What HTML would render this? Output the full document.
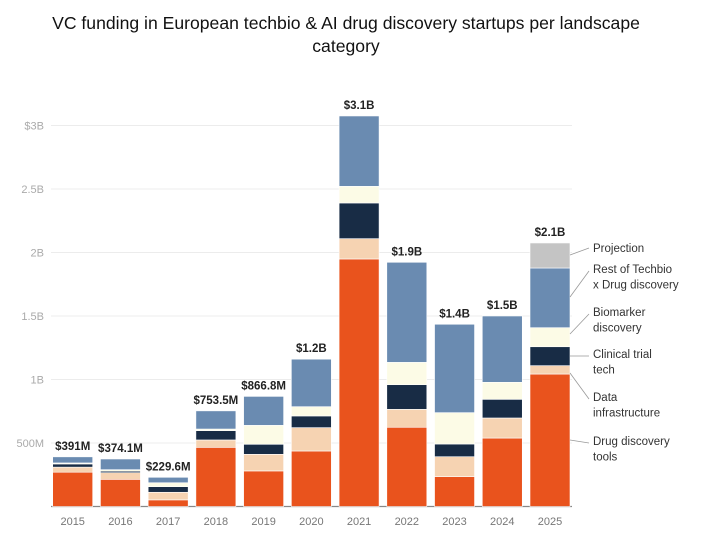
<!DOCTYPE html>
<html><head><meta charset="utf-8"><style>
body{margin:0;background:#fff;width:704px;height:542px;overflow:hidden;font-family:"Liberation Sans",sans-serif}
</style></head><body>
<svg id="chart" width="704" height="542" xmlns="http://www.w3.org/2000/svg">
<text x="346" y="29" text-anchor="middle" font-size="17.6" fill="#111">VC funding in European techbio &amp; AI drug discovery startups per landscape</text>
<text x="346" y="52" text-anchor="middle" font-size="17.6" fill="#111">category</text>
<g id="grid"></g><g id="bars"></g><g id="labels"></g><g id="legend"></g>
</svg>
<script>
const years=["2015","2016","2017","2018","2019","2020","2021","2022","2023","2024","2025"];
const drugTools=[270,214,52,466,280,437,1949,624,235,539,1043];
const dataInfra=[40,52,60,58,131,184,160,141,157,158,66];
const clinical=[25,12,44,73,79,92,281,194,100,147,149];
const biomarker=[8,12,31,13,149,73,131,176,247,134,150];
const restTechbio=[48,84,43,143,228,374,554,788,696,522,470];
const projection=[0,0,0,0,0,0,0,0,0,0,197];
const totals=["$391M","$374.1M","$229.6M","$753.5M","$866.8M","$1.2B","$3.1B","$1.9B","$1.4B","$1.5B","$2.1B"];
const yTicks=[500,1000,1500,2000,2500,3000];
const yTickLabels=["500M","1B","1.5B","2B","2.5B","$3B"];
const seriesNames=["Drug discovery tools","Data infrastructure","Clinical trial tech","Biomarker discovery","Rest of Techbio x Drug discovery","Projection"];
const colors=["#e9531d","#f6d3b2","#182c45","#fcfbe6","#6a8bb1","#c4c4c4"];
const NS="http://www.w3.org/2000/svg";
const base=506.5, pxPerM=0.127;
const y=v=>base-v*pxPerM;
const x=i=>52.7+i*47.73;
const bw=40;
function mk(tag,attrs,parent){const e=document.createElementNS(NS,tag);for(const k in attrs)e.setAttribute(k,attrs[k]);parent.appendChild(e);return e;}
const grid=document.getElementById('grid'),bars=document.getElementById('bars'),labels=document.getElementById('labels'),legend=document.getElementById('legend');
yTicks.forEach((t,i)=>{
 const l=mk('line',{x1:51,x2:572,y1:y(t),y2:y(t),stroke:'#ececec','stroke-width':1},grid);
 
 
 const tx=mk('text',{x:44,y:y(t)+4,'text-anchor':'end','font-size':11,fill:'#aaa'},grid);
 tx.textContent=yTickLabels[i];
 
 
});
const series=[drugTools,dataInfra,clinical,biomarker,restTechbio,projection];
years.forEach((yr,i)=>{
 let acc=0;
 series.forEach((s,k)=>{
  const v=s[i]; if(v<=0)return;
  const r=mk('rect',{x:x(i),y:y(acc+v),width:bw,height:v*pxPerM,fill:colors[k],stroke:'#fff','stroke-width':0.6},bars);
  
  
  acc+=v;
 });
 const t=mk('text',{x:x(i)+bw/2,y:y(acc)-7,'text-anchor':'middle','font-size':11.5,'font-weight':'bold',fill:'#222'},labels);
 t.textContent=totals[i];
 
 
 const yl=mk('text',{x:x(i)+bw/2,y:525,'text-anchor':'middle','font-size':11,fill:'#777'},labels);
 yl.textContent=yr;
 
 
});
const ax=mk('line',{x1:51,x2:572,y1:base,y2:base,stroke:'#888','stroke-width':1.2},grid);


const legendLines=[["Drug discovery","tools"],["Data","infrastructure"],["Clinical trial","tech"],["Biomarker","discovery"],["Rest of Techbio","x Drug discovery"],["Projection"]];
const legendY=[445,401,358,316,273,252];
const anchorY=[440,373,356,334,297,255];
legendLines.forEach((ls,k)=>{
 const g=mk('g',{},legend);
 
 
 mk('line',{x1:570,y1:anchorY[k],x2:589,y2:legendY[k]+(ls.length>1?-2:-4),stroke:'#999','stroke-width':0.8},g);
 ls.forEach((s,j)=>{const t=mk('text',{x:593,y:legendY[k]+j*15.5,'font-size':11.5,fill:'#333'},g);t.textContent=s;});
});
</script>
</body></html>
